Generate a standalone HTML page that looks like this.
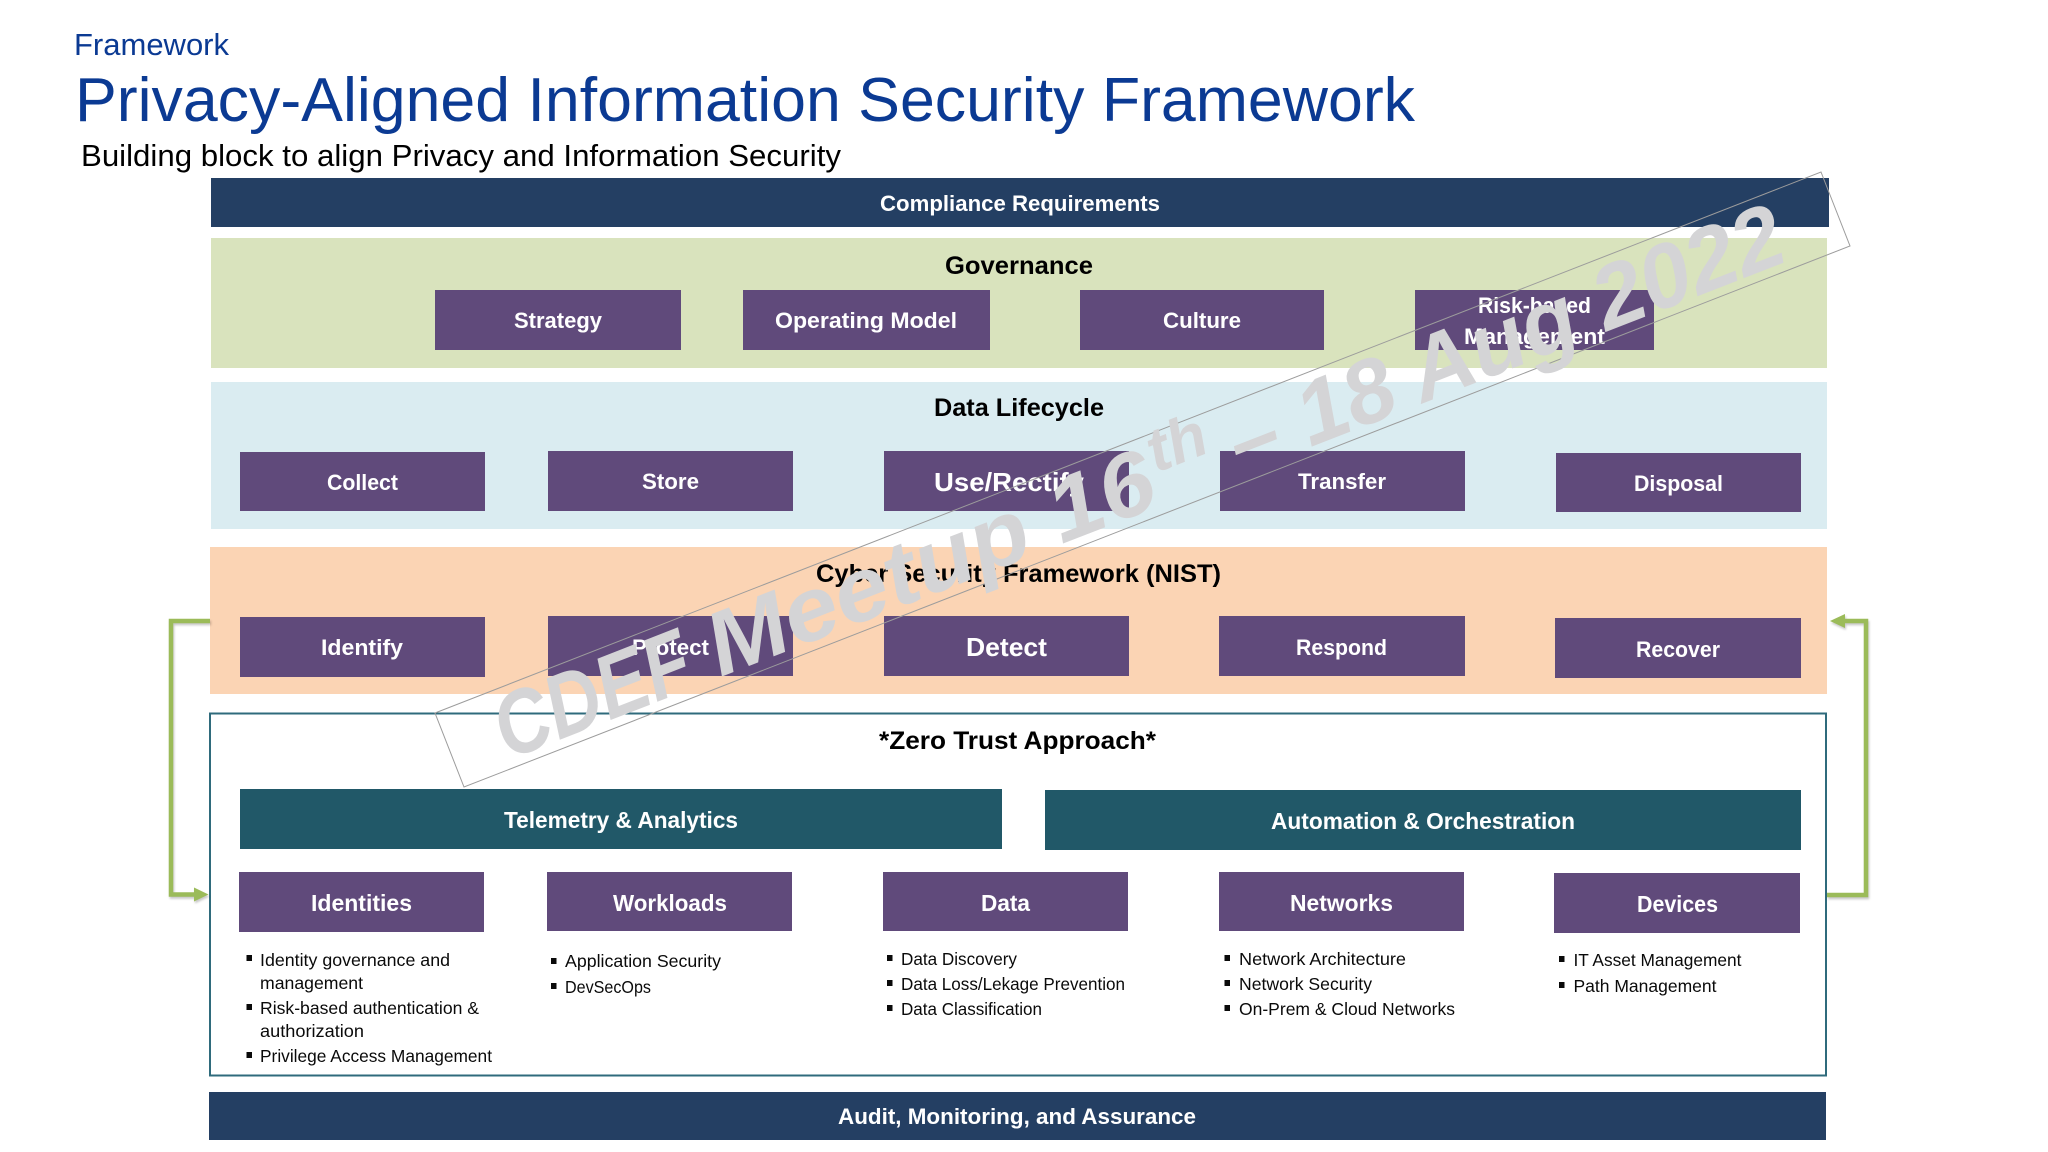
<!DOCTYPE html>
<html>
<head>
<meta charset="utf-8">
<title>Privacy-Aligned Information Security Framework</title>
<style>
html,body{margin:0;padding:0;background:#fff;width:2048px;height:1152px;overflow:hidden}
svg{display:block;position:absolute;left:0;top:0;filter:blur(.35px)}
text{font-family:"Liberation Sans",sans-serif}
.w{fill:#fff;font-weight:bold;font-size:22px}
.h{fill:#000;font-weight:bold;font-size:25px}
.l{fill:#0a0a0a;font-size:17.5px}
.p{fill:#604a7b}
.t{fill:#215868}
.n{fill:#243f63}
.wm{fill:#d4d4d6;font-weight:bold;font-style:italic;font-size:90px}
</style>
</head>
<body>
<svg width="2048" height="1152" viewBox="0 0 2048 1152" xmlns="http://www.w3.org/2000/svg">
<rect width="2048" height="1152" fill="#fff"/>

<text x="74" y="55" font-size="31" fill="#0b3a93" textLength="155" lengthAdjust="spacingAndGlyphs">Framework</text>
<text x="75" y="121" font-size="62" fill="#0b3a93" textLength="1340" lengthAdjust="spacingAndGlyphs">Privacy-Aligned Information Security Framework</text>
<text x="81" y="166" font-size="31" fill="#000" textLength="760" lengthAdjust="spacingAndGlyphs">Building block to align Privacy and Information Security</text>

<rect class="n" x="211" y="178" width="1618" height="49"/>
<text class="w" x="880" y="211" textLength="280" lengthAdjust="spacingAndGlyphs">Compliance Requirements</text>

<rect x="211" y="238" width="1616" height="130" fill="#d9e3bd"/>
<text class="h" x="945" y="274" textLength="148" lengthAdjust="spacingAndGlyphs">Governance</text>
<rect class="p" x="435" y="290" width="246" height="60"/>
<text class="w" x="514" y="328" textLength="88" lengthAdjust="spacingAndGlyphs">Strategy</text>
<rect class="p" x="743" y="290" width="247" height="60"/>
<text class="w" x="775" y="328" textLength="182" lengthAdjust="spacingAndGlyphs">Operating Model</text>
<rect class="p" x="1080" y="290" width="244" height="60"/>
<text class="w" x="1163" y="328" textLength="78" lengthAdjust="spacingAndGlyphs">Culture</text>
<rect class="p" x="1415" y="290" width="239" height="60"/>
<text class="w" x="1478" y="313" textLength="113" lengthAdjust="spacingAndGlyphs">Risk-based</text>
<text class="w" x="1464" y="344" textLength="141" lengthAdjust="spacingAndGlyphs">Management</text>

<rect x="211" y="382" width="1616" height="147" fill="#daecf1"/>
<text class="h" x="934" y="416" textLength="170" lengthAdjust="spacingAndGlyphs">Data Lifecycle</text>
<rect class="p" x="240" y="452" width="245" height="59"/>
<text class="w" x="327" y="490" textLength="71" lengthAdjust="spacingAndGlyphs">Collect</text>
<rect class="p" x="548" y="451" width="245" height="60"/>
<text class="w" x="642" y="489" textLength="57" lengthAdjust="spacingAndGlyphs">Store</text>
<rect class="p" x="884" y="451" width="245" height="60"/>
<text class="w" x="934" y="491" style="font-size:26px" textLength="150" lengthAdjust="spacingAndGlyphs">Use/Rectify</text>
<rect class="p" x="1220" y="451" width="245" height="60"/>
<text class="w" x="1298" y="489" textLength="88" lengthAdjust="spacingAndGlyphs">Transfer</text>
<rect class="p" x="1556" y="453" width="245" height="59"/>
<text class="w" x="1634" y="491" textLength="89" lengthAdjust="spacingAndGlyphs">Disposal</text>

<rect x="210" y="547" width="1617" height="147" fill="#fbd4b4"/>
<text class="h" x="816" y="582" textLength="405" lengthAdjust="spacingAndGlyphs">Cyber Security Framework (NIST)</text>
<rect class="p" x="240" y="617" width="245" height="60"/>
<text class="w" x="321" y="655" textLength="82" lengthAdjust="spacingAndGlyphs">Identify</text>
<rect class="p" x="548" y="616" width="245" height="60"/>
<text class="w" x="632" y="655" textLength="77" lengthAdjust="spacingAndGlyphs">Protect</text>
<rect class="p" x="884" y="616" width="245" height="60"/>
<text class="w" x="966" y="656" style="font-size:26px" textLength="81" lengthAdjust="spacingAndGlyphs">Detect</text>
<rect class="p" x="1219" y="616" width="246" height="60"/>
<text class="w" x="1296" y="655" textLength="91" lengthAdjust="spacingAndGlyphs">Respond</text>
<rect class="p" x="1555" y="618" width="246" height="60"/>
<text class="w" x="1636" y="657" textLength="84" lengthAdjust="spacingAndGlyphs">Recover</text>

<rect x="210" y="713.5" width="1616" height="362" fill="#fff" stroke="#2f6b7c" stroke-width="2"/>
<text class="h" x="879" y="749" textLength="277" lengthAdjust="spacingAndGlyphs">*Zero Trust Approach*</text>
<rect class="t" x="240" y="789" width="762" height="60"/>
<text class="w" x="504" y="828" style="font-size:23px" textLength="234" lengthAdjust="spacingAndGlyphs">Telemetry &amp; Analytics</text>
<rect class="t" x="1045" y="790" width="756" height="60"/>
<text class="w" x="1271" y="829" style="font-size:23px" textLength="304" lengthAdjust="spacingAndGlyphs">Automation &amp; Orchestration</text>

<rect class="p" x="239" y="872" width="245" height="60"/>
<text class="w" x="311" y="911" style="font-size:23px" textLength="101" lengthAdjust="spacingAndGlyphs">Identities</text>
<rect class="p" x="547" y="872" width="245" height="59"/>
<text class="w" x="613" y="911" style="font-size:23px" textLength="114" lengthAdjust="spacingAndGlyphs">Workloads</text>
<rect class="p" x="883" y="872" width="245" height="59"/>
<text class="w" x="981" y="911" style="font-size:23px" textLength="49" lengthAdjust="spacingAndGlyphs">Data</text>
<rect class="p" x="1219" y="872" width="245" height="59"/>
<text class="w" x="1290" y="911" style="font-size:23px" textLength="103" lengthAdjust="spacingAndGlyphs">Networks</text>
<rect class="p" x="1554" y="873" width="246" height="60"/>
<text class="w" x="1637" y="912" style="font-size:23px" textLength="81" lengthAdjust="spacingAndGlyphs">Devices</text>

<g fill="#0a0a0a">
<rect x="246.500" y="955" width="5.500" height="6"/>
<rect x="246.500" y="1004" width="5.500" height="6"/>
<rect x="246.500" y="1052" width="5.500" height="6"/>
<rect x="551" y="958" width="5.500" height="6"/>
<rect x="551" y="983" width="5.500" height="6"/>
<rect x="887" y="955" width="5.500" height="6"/>
<rect x="887" y="980" width="5.500" height="6"/>
<rect x="887" y="1005" width="5.500" height="6"/>
<rect x="1224.500" y="955" width="5.500" height="6"/>
<rect x="1224.500" y="980" width="5.500" height="6"/>
<rect x="1224.500" y="1005" width="5.500" height="6"/>
<rect x="1559" y="956" width="5.500" height="6"/>
<rect x="1559" y="982" width="5.500" height="6"/>
</g>

<text class="l" x="260" y="966" textLength="190" lengthAdjust="spacingAndGlyphs">Identity governance and</text>
<text class="l" x="260" y="989" textLength="103" lengthAdjust="spacingAndGlyphs">management</text>
<text class="l" x="260" y="1014" textLength="219" lengthAdjust="spacingAndGlyphs">Risk-based authentication &amp;</text>
<text class="l" x="260" y="1037" textLength="104" lengthAdjust="spacingAndGlyphs">authorization</text>
<text class="l" x="260" y="1062" textLength="232" lengthAdjust="spacingAndGlyphs">Privilege Access Management</text>
<text class="l" x="565" y="967" textLength="156" lengthAdjust="spacingAndGlyphs">Application Security</text>
<text class="l" x="565" y="993" textLength="86" lengthAdjust="spacingAndGlyphs">DevSecOps</text>
<text class="l" x="901" y="965" textLength="116" lengthAdjust="spacingAndGlyphs">Data Discovery</text>
<text class="l" x="901" y="990" textLength="224" lengthAdjust="spacingAndGlyphs">Data Loss/Lekage Prevention</text>
<text class="l" x="901" y="1015" textLength="141" lengthAdjust="spacingAndGlyphs">Data Classification</text>
<text class="l" x="1239" y="965" textLength="167" lengthAdjust="spacingAndGlyphs">Network Architecture</text>
<text class="l" x="1239" y="990" textLength="133" lengthAdjust="spacingAndGlyphs">Network Security</text>
<text class="l" x="1239" y="1015" textLength="216" lengthAdjust="spacingAndGlyphs">On-Prem &amp; Cloud Networks</text>
<text class="l" x="1573.500" y="966" textLength="168" lengthAdjust="spacingAndGlyphs">IT Asset Management</text>
<text class="l" x="1573.500" y="992" textLength="143" lengthAdjust="spacingAndGlyphs">Path Management</text>

<rect class="n" x="209" y="1092" width="1617" height="48"/>
<text class="w" x="838" y="1124" textLength="358" lengthAdjust="spacingAndGlyphs">Audit, Monitoring, and Assurance</text>

<g style="filter:drop-shadow(1px 2px 1px rgba(0,0,0,.22))">
<path d="M210 621 H171 V894.500 H198" fill="none" stroke="#9bbb59" stroke-width="4.500"/>
<path d="M194 887.500 L208.500 894.500 L194 901.500 Z" fill="#9bbb59"/>
<path d="M1827 895 H1866 V621 H1840" fill="none" stroke="#9bbb59" stroke-width="4.500"/>
<path d="M1845 614 L1830 621 L1845 628 Z" fill="#9bbb59"/>
</g>

<polygon points="435,713 1821,172 1850,246 464,787" fill="none" stroke="#9c9c9c" stroke-width="1"/>
<g transform="translate(508 760) rotate(-21.3)">
<text class="wm" x="0" y="0" textLength="205" lengthAdjust="spacingAndGlyphs">CDEF</text>
<text class="wm" x="228" y="0" textLength="474" lengthAdjust="spacingAndGlyphs">Meetup 16</text>
<text class="wm" x="708" y="-32" style="font-size:62px" textLength="60" lengthAdjust="spacingAndGlyphs">th</text>
<text class="wm" x="787" y="0" textLength="590" lengthAdjust="spacingAndGlyphs">– 18 Aug 2022</text>
</g>
</svg>
</body>
</html>
